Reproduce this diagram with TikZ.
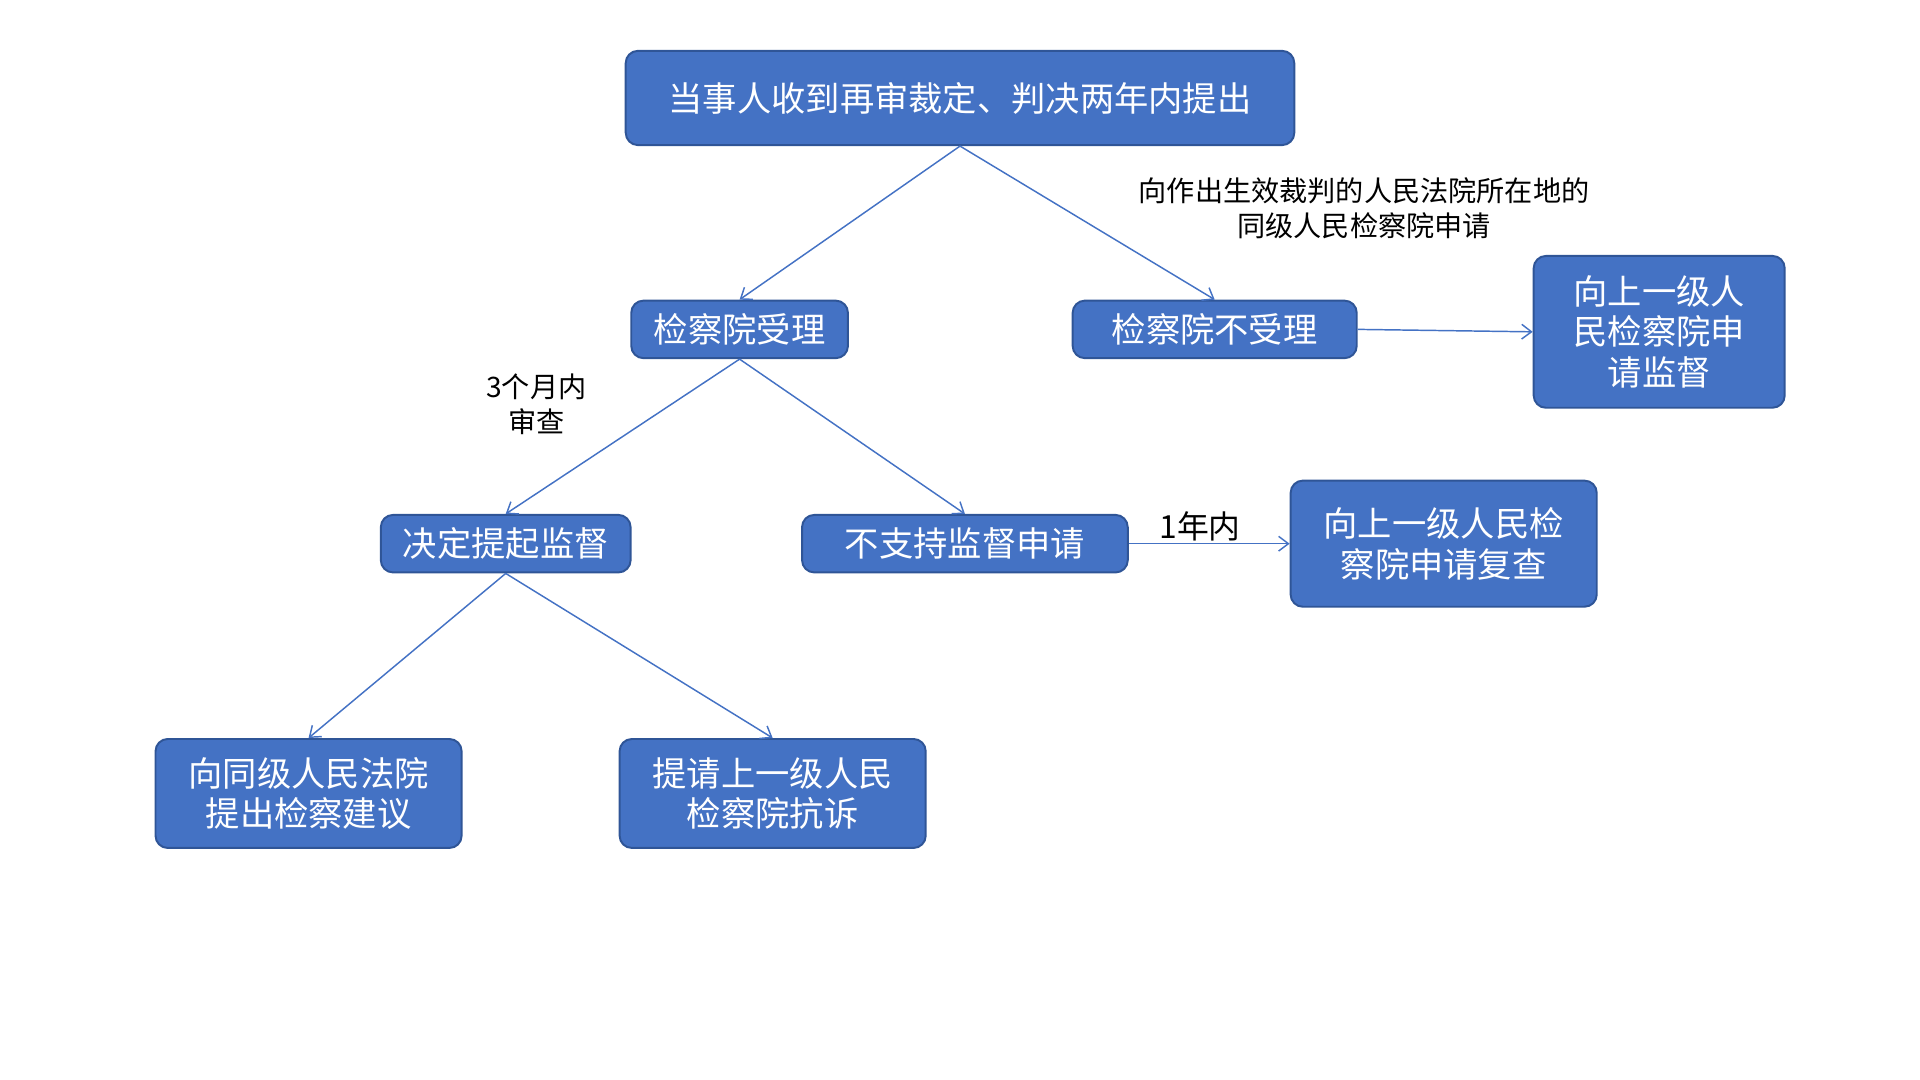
\documentclass[tikz,border=0pt]{standalone}
\usepackage{fontspec}
\setmainfont{Noto Sans CJK SC}
\usetikzlibrary{arrows.meta}
\definecolor{boxfill}{HTML}{4472C4}
\definecolor{boxline}{HTML}{2F5597}
\begin{document}
\begin{tikzpicture}[x=0.5pt,y=-0.5pt,
  box/.style={draw=boxline,line width=0.8pt,fill=boxfill,rounded corners=5pt,text=white,font=\fontsize{14pt}{16.5pt}\selectfont,align=center,inner sep=0pt},
  lab/.style={font=\fontsize{11.5pt}{14.5pt}\selectfont,align=center,text=black},
  conn/.style={draw=boxfill,line width=0.6pt,-{Straight Barb[length=4pt,width=6pt]}}]
\useasboundingbox (0,0) rectangle (1568,882);
\node[box,minimum width=273pt,minimum height=38.5pt] (top) at (784,80) {当事人收到再审裁定、判决两年内提出};
\node[box,minimum width=88.5pt,minimum height=23.5pt] (acc) at (604,269) {检察院受理};
\node[box,minimum width=116pt,minimum height=23.5pt] (rej) at (992,269) {检察院不受理};
\node[box,minimum width=102.5pt,minimum height=62pt] (sup1) at (1355,271) {向上一级人\\民检察院申\\请监督};
\node[box,minimum width=102pt,minimum height=23.5pt] (dec) at (413,444) {决定提起监督};
\node[box,minimum width=133pt,minimum height=23.5pt] (nos) at (788,444) {不支持监督申请};
\node[box,minimum width=125pt,minimum height=51.5pt] (rev) at (1179,444) {向上一级人民检\\察院申请复查};
\node[box,minimum width=125pt,minimum height=44.5pt] (adv) at (252,648) {向同级人民法院\\提出检察建议};
\node[box,minimum width=125pt,minimum height=44.5pt] (pro) at (631,648) {提请上一级人民\\检察院抗诉};
\draw[conn] (top.south) -- (acc.north);
\draw[conn] (top.south) -- (rej.north);
\draw[conn] (rej.east) -- (sup1.west);
\draw[conn] (acc.south) -- (dec.north);
\draw[conn] (acc.south) -- (nos.north);
\draw[conn] (nos.east) -- (rev.west);
\draw[conn] (dec.south) -- (adv.north);
\draw[conn] (dec.south) -- (pro.north);
\node[lab] (l1) at (1114,170) {向作出生效裁判的人民法院所在地的\\同级人民检察院申请};
\node[lab] (l2) at (438,330) {3个月内\\审查};
\node[lab,font=\fontsize{13pt}{15pt}\selectfont] (l3) at (980,430) {1年内};
\end{tikzpicture}
\end{document}
